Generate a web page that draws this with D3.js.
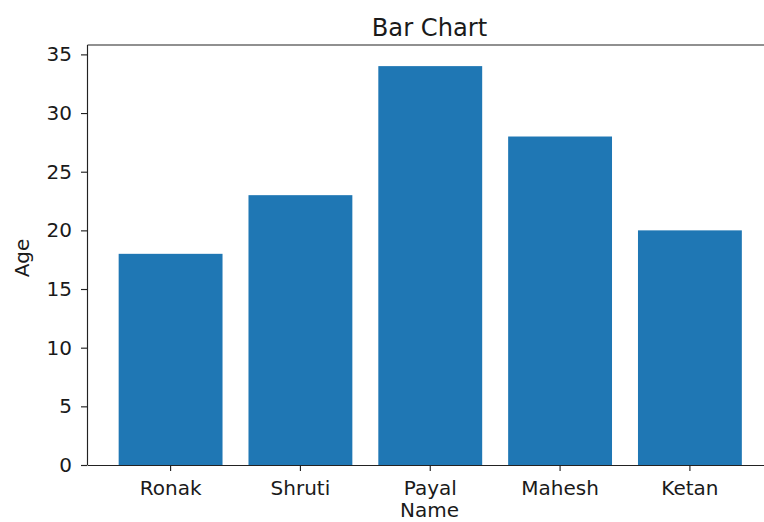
<!DOCTYPE html>
<html>
<head>
<meta charset="utf-8">
<script src="https://cdn.jsdelivr.net/npm/d3@7"></script>
<style>
  html, body { margin: 0; padding: 0; background: #fff; }
  svg { display: block; }
  text { font-family: "DejaVu Sans", sans-serif; fill: #1a1a1a; }
</style>
</head>
<body>
<svg id="chart" width="764" height="522"></svg>
<script>
const names = ["Ronak", "Shruti", "Payal", "Mahesh", "Ketan"];
const ages = [18, 23, 34, 28, 20];
const yTicks = [0, 5, 10, 15, 20, 25, 30, 35];
const title = "Bar Chart";
const xLabel = "Name";
const yLabel = "Age";

(function () {
const svg = d3.select("#chart");
const pLeft = 87.5, pRight = 773, pTop = 45, pBottom = 465;

const x = d3.scaleBand().domain(names).range([pLeft, pRight])
  .paddingInner(0.2).paddingOuter(0.24);
const y = d3.scaleLinear().domain([0, 35.8]).range([pBottom, pTop]);

// bars
svg.append("g").selectAll("rect").data(names).join("rect")
  .attr("x", d => x(d))
  .attr("width", x.bandwidth())
  .attr("y", (d, i) => y(ages[i]))
  .attr("height", (d, i) => y(0) - y(ages[i]))
  .attr("fill", "#1f77b4");

// axes
const xAxis = svg.append("g").attr("transform", `translate(0,${pBottom})`)
  .call(d3.axisBottom(x).tickSize(6).tickPadding(9.5).tickSizeOuter(0));
const yAxis = svg.append("g").attr("transform", `translate(${pLeft},0)`)
  .call(d3.axisLeft(y).tickValues(yTicks).tickSize(6.5).tickPadding(9).tickSizeOuter(0));

[xAxis, yAxis].forEach(g => {
  g.select(".domain").attr("stroke", "#222").attr("stroke-width", 1.15);
  g.selectAll(".tick line").attr("stroke", "#222").attr("stroke-width", 1.15);
  g.selectAll(".tick text").style("font-family", "DejaVu Sans, sans-serif")
    .style("font-size", "20px").attr("fill", "#1a1a1a");
});
yAxis.select(".domain").attr("d", `M0,${pBottom}V${pTop}`);

// top and right spines
svg.append("line").attr("x1", pLeft).attr("x2", pRight).attr("y1", pTop).attr("y2", pTop)
  .attr("stroke", "#222").attr("stroke-width", 1.15);
svg.append("line").attr("x1", pRight).attr("x2", pRight).attr("y1", pTop).attr("y2", pBottom)
  .attr("stroke", "#222").attr("stroke-width", 1.15);

// title
svg.append("text").attr("x", 429.5).attr("y", 35.5)
  .attr("text-anchor", "middle").style("font-size", "24.2px").text(title);

// axis labels
svg.append("text").attr("x", 429.5).attr("y", 517)
  .attr("text-anchor", "middle").style("font-size", "20px").text(xLabel);
svg.append("text").attr("transform", `translate(29,258) rotate(-90)`)
  .attr("text-anchor", "middle").style("font-size", "20px").text(yLabel);
})();
</script>
</body>
</html>
